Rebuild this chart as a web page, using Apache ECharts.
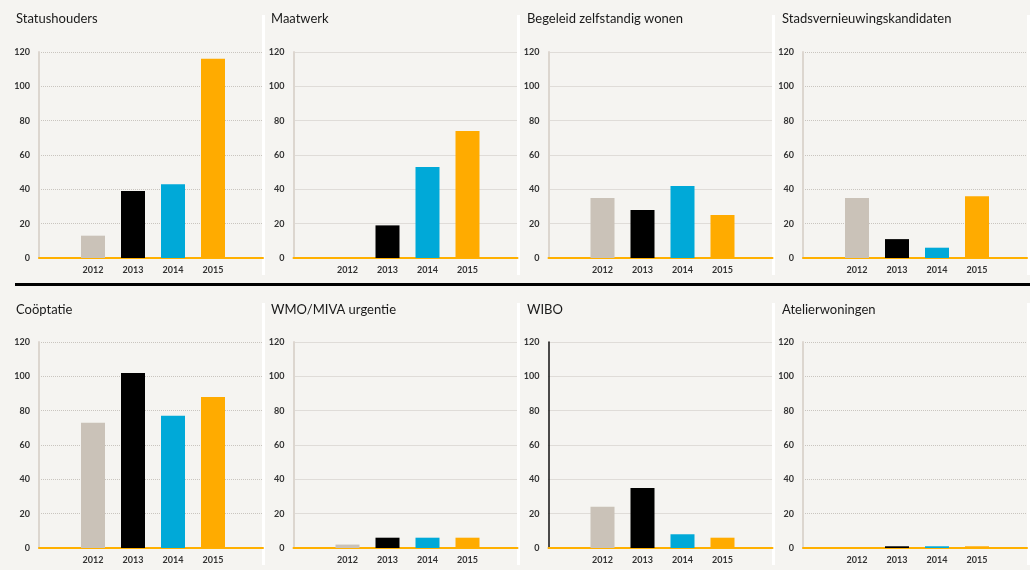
<!DOCTYPE html>
<html>
<head>
<meta charset="utf-8">
<script src="https://cdn.jsdelivr.net/npm/echarts@6/dist/echarts.min.js"></script>
<style>
html,body{margin:0;padding:0;background:#f5f4f1;}
#c{width:1030px;height:570px;}
</style>
</head>
<body>
<div id="c"></div>
<script>
// ---- data ----
const years = ['2012', '2013', '2014', '2015'];
const titles = ['Statushouders', 'Maatwerk', 'Begeleid zelfstandig wonen', 'Stadsvernieuwingskandidaten',
                'Coöptatie', 'WMO/MIVA urgentie', 'WIBO', 'Atelierwoningen'];
const statushouders = [13, 39, 43, 116];
const maatwerk = [0, 19, 53, 74];
const begeleidZelfstandigWonen = [35, 28, 42, 25];
const stadsvernieuwingskandidaten = [35, 11, 6, 36];
const cooptatie = [73, 102, 77, 88];
const wmoMivaUrgentie = [2, 6, 6, 6];
const wibo = [24, 35, 8, 6];
const atelierwoningen = [0, 1, 1, 1];
const yMin = 0, yMax = 120, yInterval = 20;

const panelValues = [statushouders, maatwerk, begeleidZelfstandigWonen, stadsvernieuwingskandidaten,
                     cooptatie, wmoMivaUrgentie, wibo, atelierwoningen];

// ---- style ----
const barColors = ['#cac2b8', '#000000', '#00a9d8', '#ffab00'];
const axisLeft = [39, 293.5, 548.5, 803];
const plotWidth = 224;
const rowTop = [52, 342];
const plotHeight = 206;
const fontFam = 'Lato, "Noto Sans", sans-serif';

const grid = [], xAxis = [], yAxis = [], series = [], title = [];
const graphic = [];

panelValues.forEach((vals, i) => {
  const c = i % 4, r = Math.floor(i / 4);
  const L = axisLeft[c], T = rowTop[r];
  // base grid: axis + split lines + orange baseline
  grid.push({left: L, top: T, width: plotWidth, height: plotHeight});
  xAxis.push({gridIndex: 2 * i, type: 'value', min: 0, max: 1,
    axisLine: {show: true, lineStyle: {color: '#ffb000', width: 2}},
    axisTick: {show: false}, axisLabel: {show: false}, splitLine: {show: false}});
  yAxis.push({gridIndex: 2 * i, type: 'value', min: yMin, max: yMax, interval: yInterval,
    axisLine: {show: true, lineStyle: {color: i === 6 ? '#111111' : '#dcd6cf', width: i === 6 ? 1.5 : 2}},
    axisTick: {show: false},
    axisLabel: {fontSize: 9, color: '#333', margin: 9, fontFamily: fontFam, fontWeight: 'bold'},
    splitLine: {show: true, lineStyle: {color: '#c9c5bf', type: 'dotted', width: 1}}});
  // bar grid
  grid.push({left: L + 34, top: T, width: 160, height: plotHeight});
  xAxis.push({gridIndex: 2 * i + 1, type: 'category', data: years,
    axisLine: {show: false}, axisTick: {show: false},
    axisLabel: {fontSize: 9, color: '#333', margin: 8, fontFamily: fontFam, fontWeight: 'bold'}});
  yAxis.push({gridIndex: 2 * i + 1, type: 'value', min: yMin, max: yMax, interval: yInterval, show: false});
  series.push({type: 'bar', xAxisIndex: 2 * i + 1, yAxisIndex: 2 * i + 1, barWidth: 24,
    data: vals.map((v, k) => ({value: v, itemStyle: {color: barColors[k]}})),
    silent: true, z: 3});
  title.push({text: titles[i], left: [16, 271, 527, 782][c], top: [12, 303][r], padding: 0,
    textStyle: {fontSize: 13, fontWeight: 'normal', color: '#1a1a1a', fontFamily: fontFam}});
});

// separators
[262, 517, 772, 1027].forEach(x => {
  graphic.push({type: 'rect', shape: {x: x, y: 15, width: 3, height: 260}, style: {fill: '#ffffff'}, silent: true});
  graphic.push({type: 'rect', shape: {x: x, y: 303, width: 3, height: 262}, style: {fill: '#ffffff'}, silent: true});
});
graphic.push({type: 'rect', shape: {x: 15, y: 283, width: 1015, height: 3}, style: {fill: '#000000'}, silent: true});

const chart = echarts.init(document.getElementById('c'));
chart.setOption({
  backgroundColor: '#f5f4f1',
  animation: false,
  title, grid, xAxis, yAxis, series, graphic
});
</script>
</body>
</html>
